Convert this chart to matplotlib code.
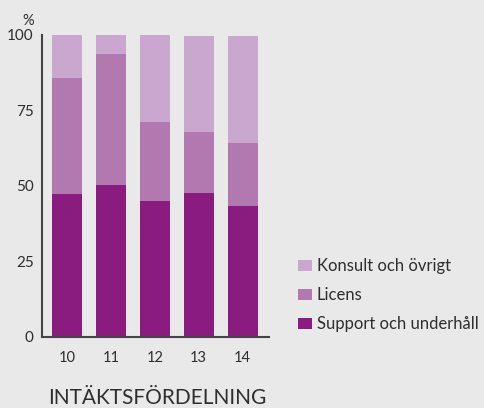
import matplotlib
matplotlib.use("Agg")
import matplotlib.pyplot as plt
from matplotlib.patches import Patch
import numpy as np

years = ["10", "11", "12", "13", "14"]
support = [47.4, 50.3, 45.0, 47.8, 43.4]
licens = [38.4, 43.4, 26.2, 20.1, 20.8]
konsult = [14.2, 6.3, 28.8, 31.8, 35.5]
series_names = ["Support och underhåll", "Licens", "Konsult och övrigt"]
colors = ["#8a1b7f", "#b279b1", "#caa7cf"]
yticks = [0, 25, 50, 75, 100]
title = "INTÄKTSFÖRDELNING"

plt.rcParams['font.family'] = ['Lato', 'DejaVu Sans']
bg = "#e9e9e9"
txt = "#2e2e2e"

fig = plt.figure(figsize=(4.85, 4.08), dpi=100, facecolor=bg)
W, H = 485, 408
ax = fig.add_axes([42 / W, (H - 337) / H, (269 - 42) / W, (337 - 35) / H])
ax.set_facecolor(bg)

x = np.arange(len(years))
bottom = np.zeros(len(years))
for vals, c in zip([support, licens, konsult], colors):
    ax.bar(x, vals, bottom=bottom, width=0.68, color=c, linewidth=0)
    bottom += np.array(vals)

ax.set_xlim(-0.57, 4.6)
ax.set_ylim(0, 100)
ax.set_yticks(yticks)
ax.set_yticklabels([str(t) for t in yticks], fontsize=11, color=txt)
ax.set_xticks(x)
ax.set_xticklabels(years, fontsize=10.5, color=txt)
ax.tick_params(axis='x', length=0, pad=10)
ax.tick_params(axis='y', length=0, pad=6)
for s in ["top", "right"]:
    ax.spines[s].set_visible(False)
for s in ["left", "bottom"]:
    ax.spines[s].set_color("#444444")
    ax.spines[s].set_linewidth(1.5)

fig.text(28 / W, (H - 21) / H, "%", fontsize=10.5, color=txt, ha="center", va="center")
fig.text(157 / W, (H - 398) / H, title, fontsize=15, color=txt, ha="center", va="center")

handles = [Patch(facecolor=colors[i], edgecolor="none", label=series_names[i]) for i in [2, 1, 0]]
leg = fig.legend(handles=handles, loc="upper left", bbox_to_anchor=(298 / W, (H - 258) / H),
                 frameon=False, fontsize=12, handlelength=0.84, handleheight=0.66,
                 handletextpad=0.3, labelspacing=0.78, borderaxespad=0, borderpad=0)
for t in leg.get_texts():
    t.set_color(txt)

fig.savefig("out.png", dpi=100, facecolor=bg)
